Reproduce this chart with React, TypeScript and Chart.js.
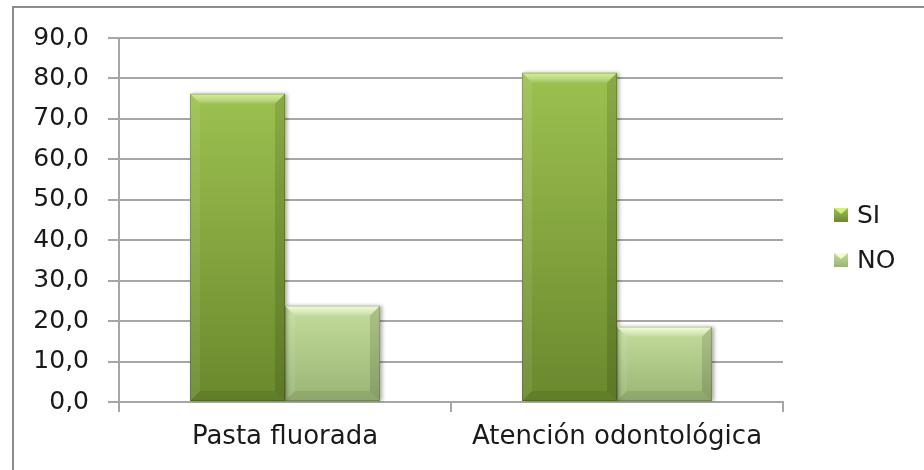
import React, { useEffect, useRef } from "react";
import { Chart, registerables } from "chart.js";

Chart.register(...registerables);

const categories = ["Pasta fluorada", "Atención odontológica"];
const seriesNames = ["SI", "NO"];
const siValues = [76.2, 81.4];
const noValues = [23.8, 18.6];
const yTicks = [0, 10, 20, 30, 40, 50, 60, 70, 80, 90];

const FONT = "'DejaVu Sans', sans-serif";
const gradStops = [
  { top: "#9dc150", bottom: "#6a882d", bevel: "rgba(214,245,140,0.9)", legend: "#7e9d3a" },
  { top: "#c5dd9c", bottom: "#98b474", bevel: "rgba(245,255,210,0.95)", legend: "#aecb86" },
];

function barGradient(ctx: any, idx: number) {
  const chart = ctx.chart;
  const ys = chart.scales?.y;
  if (!chart.chartArea || !ys) return gradStops[idx].legend;
  const v = ctx.raw as number;
  const t = ys.getPixelForValue(v);
  const b = ys.getPixelForValue(0);
  if (!isFinite(t) || !isFinite(b) || b - t < 1) return gradStops[idx].legend;
  const g = chart.ctx.createLinearGradient(0, t, 0, b);
  g.addColorStop(0, gradStops[idx].top);
  g.addColorStop(1, gradStops[idx].bottom);
  return g;
}

const shadowPlugin = {
  id: "shadowPlugin",
  beforeDatasetsDraw(chart: any) {
    const ctx = chart.ctx;
    ctx.save();
    ctx.shadowColor = "rgba(0,0,0,0.35)";
    ctx.shadowBlur = 4;
    ctx.shadowOffsetX = 2;
    ctx.shadowOffsetY = 0;
  },
  afterDatasetsDraw(chart: any) {
    const ctx = chart.ctx;
    ctx.restore();
    chart.data.datasets.forEach((_ds: any, i: number) => {
      const meta = chart.getDatasetMeta(i);
      meta.data.forEach((bar: any) => {
        const p = bar.getProps(["x", "y", "base", "width"], true);
        const l = p.x - p.width / 2;
        const r = p.x + p.width / 2;
        const t = p.y;
        const b = p.base;
        const d = Math.min(10, (b - t) / 2);
        const poly = (pts: number[][], fill: any) => {
          ctx.beginPath();
          ctx.moveTo(pts[0][0], pts[0][1]);
          for (let k = 1; k < pts.length; k++) ctx.lineTo(pts[k][0], pts[k][1]);
          ctx.closePath();
          ctx.fillStyle = fill;
          ctx.fill();
        };
        const tg = ctx.createLinearGradient(0, t, 0, t + d);
        tg.addColorStop(0, gradStops[i].bevel);
        tg.addColorStop(1, "rgba(255,255,255,0.05)");
        poly([[l, t], [r, t], [r - d, t + d], [l + d, t + d]], tg);
        poly([[l, t], [l + d, t + d], [l + d, b - d], [l, b]], "rgba(255,255,255,0.08)");
        poly([[r, t], [r - d, t + d], [r - d, b - d], [r, b]], "rgba(0,0,0,0.12)");
        poly([[l, b], [l + d, b - d], [r - d, b - d], [r, b]], "rgba(0,0,0,0.08)");
        ctx.strokeStyle = "rgba(0,0,0,0.18)";
        ctx.lineWidth = 1;
        ctx.strokeRect(l + 0.5, t + 0.5, r - l - 1, b - t - 1);
      });
    });
  },
};

const framePlugin = {
  id: "framePlugin",
  afterDraw(chart: any) {
    const ctx = chart.ctx;
    ctx.save();
    ctx.strokeStyle = "#8c8c8c";
    ctx.lineWidth = 2;
    ctx.beginPath();
    ctx.moveTo(13, 470);
    ctx.lineTo(13, 7);
    ctx.lineTo(924, 7);
    ctx.stroke();

    // legend
    ctx.font = `25px ${FONT}`;
    ctx.textBaseline = "middle";
    ctx.textAlign = "left";
    const centers = [215, 260];
    chart.data.datasets.forEach((ds: any, i: number) => {
      const cy = centers[i];
      const bx = 834;
      const by = cy - 7;
      const g = ctx.createLinearGradient(0, by, 0, by + 14);
      g.addColorStop(0, gradStops[i].top);
      g.addColorStop(1, gradStops[i].bottom);
      ctx.fillStyle = g;
      ctx.fillRect(bx, by, 14, 14);
      ctx.fillStyle = gradStops[i].bevel;
      ctx.beginPath();
      ctx.moveTo(bx, by);
      ctx.lineTo(bx + 14, by);
      ctx.lineTo(bx + 7, by + 6);
      ctx.closePath();
      ctx.fill();
      ctx.fillStyle = "#1a1a1a";
      ctx.fillText(ds.label, 857, cy + 1);
    });
    ctx.restore();
  },
};

export default function App() {
  const ref = useRef<HTMLCanvasElement | null>(null);

  useEffect(() => {
    if (!ref.current) return;
    const chart = new Chart(ref.current, {
      type: "bar",
      data: {
        labels: categories,
        datasets: [
          {
            label: seriesNames[0],
            data: siValues,
            backgroundColor: (c: any) => barGradient(c, 0),
            borderWidth: 0,
          },
          {
            label: seriesNames[1],
            data: noValues,
            backgroundColor: (c: any) => barGradient(c, 1),
            borderWidth: 0,
          },
        ],
      },
      options: {
        responsive: false,
        animation: false,
        layout: { padding: { left: 0, top: 38, right: 141, bottom: 0 } },
        plugins: {
          legend: { display: false },
          tooltip: { enabled: false },
        },
        datasets: {
          bar: { barPercentage: 1, categoryPercentage: 0.572 },
        },
        scales: {
          x: {
            offset: true,
            afterFit: (s: any) => {
              s.height = 68;
            },
            grid: {
              offset: true,
              drawOnChartArea: false,
              drawTicks: true,
              tickLength: 10,
              color: "#a6a6a6",
              lineWidth: 2,
            },
            border: { display: true, color: "#a6a6a6", width: 2 },
            ticks: {
              color: "#1a1a1a",
              font: { family: FONT, size: 26 },
              padding: 10,
              maxRotation: 0,
            },
          },
          y: {
            min: 0,
            max: 90,
            afterFit: (s: any) => {
              s.width = 119;
            },
            afterBuildTicks: (s: any) => {
              s.ticks = yTicks.map((v) => ({ value: v }));
            },
            grid: {
              color: "#a6a6a6",
              lineWidth: 2,
              tickLength: 11,
            },
            border: { display: true, color: "#a6a6a6", width: 2 },
            ticks: {
              color: "#1a1a1a",
              font: { family: FONT, size: 25 },
              padding: 19,
              callback: (v: any) => Number(v).toFixed(1).replace(".", ","),
            },
          },
        },
      },
      plugins: [shadowPlugin, framePlugin],
    });
    return () => chart.destroy();
  }, []);

  return (
    <div style={{ position: "absolute", left: 0, top: 0, width: 924, height: 470, background: "#fff" }}>
      <canvas ref={ref} width={924} height={470} style={{ display: "block" }} />
    </div>
  );
}
